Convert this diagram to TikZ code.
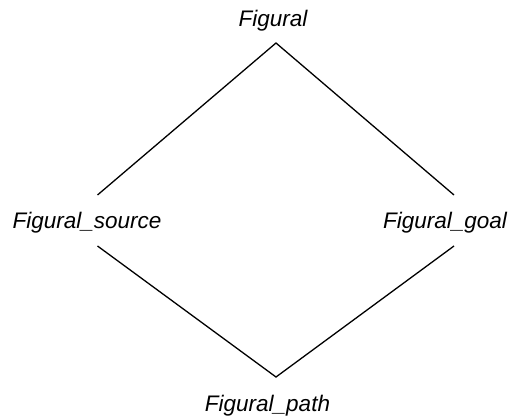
\documentclass[tikz,border=0pt]{standalone}
\usepackage{fontspec}
\setmainfont{Liberation Sans}
\begin{document}
\begin{tikzpicture}[x=1pt,y=-1pt,
  lbl/.style={font=\fontsize{22.5}{27}\selectfont\itshape, anchor=base, inner sep=0pt},
  edge/.style={line width=1.3pt, black}]
\useasboundingbox (0,0) rectangle (511,419);
\node[lbl] (fig) at (273,27) {Figural};
\node[lbl] (src) at (87,229) {Figural\_source};
\node[lbl] (goal) at (445,229) {Figural\_goal};
\node[lbl] (path) at (267.5,411) {Figural\_path};
\coordinate (top) at (276,43);
\coordinate (bot) at (276,377);
\coordinate (srcU) at (97.5,195);
\coordinate (srcL) at (97.5,246);
\coordinate (goalU) at (454,195);
\coordinate (goalL) at (454,246);
\draw[edge] (srcU) -- (top) -- (goalU);
\draw[edge] (srcL) -- (bot) -- (goalL);
\end{tikzpicture}
\end{document}
